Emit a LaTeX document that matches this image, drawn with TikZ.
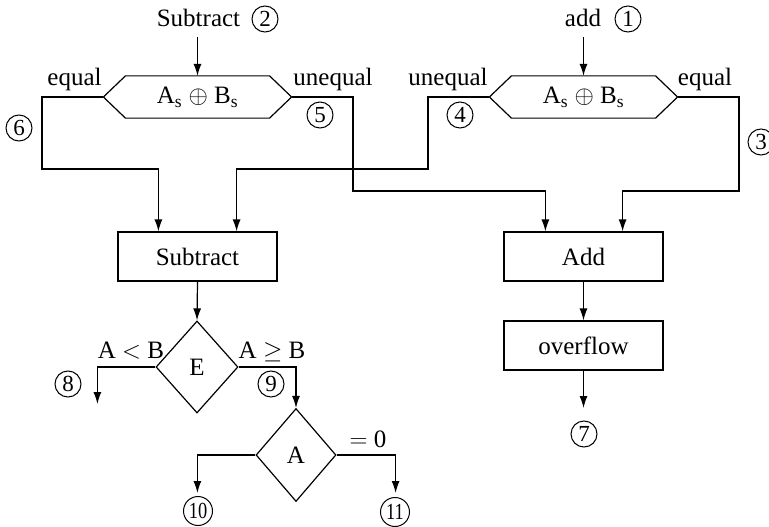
\documentclass[tikz,border=0pt]{standalone}
\usepackage{fontspec}
\setmainfont{Liberation Serif}
\usetikzlibrary{shapes.geometric,arrows.meta}
\begin{document}
\begin{tikzpicture}[x=1pt,y=-1pt,line width=1.2pt,
  arr/.style={-{Latex[length=12pt,width=8pt]}},
  lbl/.style={font=\fontsize{25}{30}\selectfont,inner sep=0pt,anchor=base},
  num/.style={circle,draw,line width=1pt,minimum size=26pt,inner sep=0pt,font=\fontsize{23}{23}\selectfont},
  bignum/.style={num,minimum size=29pt},
  box/.style={draw,minimum width=159pt,minimum height=49pt,inner sep=0pt,font=\fontsize{25}{30}\selectfont},
  hexcore/.style={minimum width=143pt,minimum height=41pt,inner sep=0pt,font=\fontsize{25}{30}\selectfont},
  dia/.style={diamond,draw,inner sep=0pt,font=\fontsize{25}{30}\selectfont}
]
\useasboundingbox (0,0) rectangle (769,527);

% top labels
\node[lbl] (tsub) at (198.5,27) {Subtract};
\node[num] (n2) at (265,19) {2};
\node[lbl] (tadd) at (583,27) {add};
\node[num] (n1) at (628,19) {1};
\coordinate (t1) at (197.5,37);
\coordinate (t2) at (583.5,37);

% hexagons
\node[hexcore] (h1) at (197.5,97) {A\textsubscript{s} $\oplus$ B\textsubscript{s}};
\node[hexcore] (h2) at (583.5,97) {A\textsubscript{s} $\oplus$ B\textsubscript{s}};
\foreach \h in {h1,h2}{
  \draw (\h.north west) -- (\h.north east) -- ([xshift=22pt]\h.east) -- (\h.south east)
        -- (\h.south west) -- ([xshift=-22pt]\h.west) -- cycle;
  \coordinate (\h L) at ([xshift=-22pt]\h.west);
  \coordinate (\h R) at ([xshift=22pt]\h.east);
}
\draw[arr] (t1) -- (h1.north);
\draw[arr] (t2) -- (h2.north);

% branch labels
\node[lbl] (eq1) at (74.5,86) {equal};
\node[lbl] (ue1) at (333,86) {unequal};
\node[lbl] (ue2) at (448,86) {unequal};
\node[lbl] (eq2) at (705,86) {equal};
\node[num] (n6) at (19,128) {6};
\node[num] (n5) at (320,115) {5};
\node[num] (n4) at (460,115) {4};
\node[num] (n3) at (761,142) {3};

% boxes
\node[box] (sub) at (197.5,256.5) {Subtract};
\node[box] (add) at (583.5,256.5) {Add};
\node[box] (ovf) at (583.5,345.5) {overflow};

% connectors from hexagons
\draw[arr] (h1L) -| (42,169) -| ([xshift=41pt]sub.north west);
\draw[arr] (h2L) -| (428,169) -| ([xshift=-41pt]sub.north east);
\draw[arr] (h1R) -| (353,191) -| ([xshift=42pt]add.north west);
\draw[arr] (h2R) -| (739,191) -| ([xshift=-41pt]add.north east);

% add branch
\draw[arr] (add.south) -- (ovf.north);
\coordinate (o7) at (583.5,408);
\draw[arr] (ovf.south) -- (o7);
\node[num] (n7) at (584,434) {7};

% diamonds
\node[dia,minimum width=82pt,minimum height=92pt] (E) at (197,367) {E};
\node[dia,minimum width=80pt,minimum height=93pt] (A) at (296,455) {A};
\draw[arr] (sub.south) -- (E.north);
\draw[arr] (E.west) -| ++(-58,37);
\draw[arr] (E.east) -| (A.north);
\draw[arr] (A.west) -| ++(-58,38);
\draw[arr] (A.east) -| ++(59,38);

\node[lbl] (lt) at (131,358) {A $<$ B};
\node[lbl] (ge) at (272,358) {A $\geq$ B};
\node[lbl] (z0) at (368,447) {$=$ 0};
\node[num] (n8) at (68,384) {8};
\node[num] (n9) at (271,384) {9};
\node[bignum] (n10) at (198,511) {\scalebox{0.8}[1]{10}};
\node[bignum] (n11) at (395,512) {\scalebox{0.8}[1]{11}};
\end{tikzpicture}
\end{document}
